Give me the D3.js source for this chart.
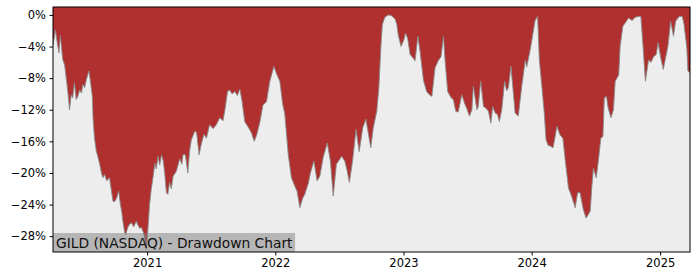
<!DOCTYPE html>
<html>
<head>
<meta charset="utf-8">
<script src="https://cdn.jsdelivr.net/npm/d3@7"></script>
<style>
  html, body { margin: 0; padding: 0; background: #ffffff; }
  svg { display: block; }
  text { font-family: "DejaVu Sans", sans-serif; }
</style>
</head>
<body>
<svg id="chart" width="700" height="280"></svg>
<script>
const titleText = "GILD (NASDAQ) - Drawdown Chart";
const yTicks = [0, -4, -8, -12, -16, -20, -24, -28];
const xTickYears = [2021, 2022, 2023, 2024, 2025];

const dates = [
"2020-04-08","2020-04-13","2020-04-15","2020-04-20","2020-04-25","2020-04-29","2020-05-03","2020-05-06","2020-05-11","2020-05-17",
"2020-05-22","2020-05-25","2020-05-30","2020-06-03","2020-06-08","2020-06-13","2020-06-17","2020-06-23","2020-06-28","2020-07-02",
"2020-07-07","2020-07-12","2020-07-19","2020-07-23","2020-07-29","2020-07-31","2020-08-04","2020-08-09","2020-08-13","2020-08-19",
"2020-08-24","2020-08-28","2020-09-02","2020-09-08","2020-09-16","2020-09-22","2020-09-26","2020-10-01","2020-10-06","2020-10-12",
"2020-10-17","2020-10-21","2020-10-24","2020-10-29","2020-11-01","2020-11-07","2020-11-12","2020-11-17","2020-11-24","2020-12-01",
"2020-12-06","2020-12-11","2020-12-16","2020-12-22","2020-12-30",
"2021-01-05","2021-01-08","2021-01-13","2021-01-18","2021-01-23","2021-01-27","2021-02-01","2021-02-06","2021-02-11","2021-02-16",
"2021-02-20","2021-02-25","2021-03-01","2021-03-06","2021-03-11","2021-03-16","2021-03-25","2021-04-04","2021-04-10","2021-04-13",
"2021-04-20","2021-04-27","2021-05-02","2021-05-07","2021-05-17","2021-05-22","2021-05-29","2021-06-05","2021-06-12","2021-06-19",
"2021-06-28","2021-07-08","2021-07-17","2021-07-27","2021-08-05","2021-08-10","2021-08-18","2021-08-24","2021-08-31","2021-09-08",
"2021-09-15","2021-09-22","2021-09-28","2021-10-06","2021-10-16","2021-10-25","2021-11-02","2021-11-09","2021-11-18","2021-11-27",
"2021-12-07","2021-12-16","2021-12-28",
"2022-01-05","2022-01-14","2022-01-22","2022-01-28","2022-02-07","2022-02-16","2022-02-26","2022-03-04","2022-03-12","2022-03-20",
"2022-03-26","2022-04-05","2022-04-11","2022-04-21","2022-04-30","2022-05-08","2022-05-17","2022-05-29","2022-06-07","2022-06-15",
"2022-06-24","2022-07-09","2022-07-18","2022-07-25","2022-07-31","2022-08-09","2022-08-19","2022-08-28","2022-09-07","2022-09-16",
"2022-09-30","2022-10-07","2022-10-17","2022-10-23","2022-10-29","2022-11-02","2022-11-09","2022-11-19","2022-11-28","2022-12-08",
"2022-12-13","2022-12-17","2022-12-25",
"2023-01-02","2023-01-07","2023-01-13","2023-01-20","2023-01-29","2023-02-03","2023-02-11","2023-02-17","2023-02-27","2023-03-08",
"2023-03-18","2023-03-23","2023-04-01","2023-04-10","2023-04-18","2023-04-25","2023-04-29","2023-05-07","2023-05-17","2023-05-23",
"2023-05-30","2023-06-06","2023-06-16","2023-06-25","2023-06-30","2023-07-08","2023-07-15","2023-07-19","2023-07-29","2023-08-02",
"2023-08-09","2023-08-17","2023-08-24","2023-08-31","2023-09-07","2023-09-12","2023-09-19","2023-09-26","2023-10-01","2023-10-08",
"2023-10-16","2023-10-22","2023-10-27","2023-11-03","2023-11-09","2023-11-15","2023-11-24","2023-12-04","2023-12-14","2023-12-18",
"2023-12-28",
"2024-01-05","2024-01-11","2024-01-18","2024-01-23","2024-01-30","2024-02-06","2024-02-11","2024-02-17","2024-02-23","2024-03-02",
"2024-03-08","2024-03-13","2024-03-22","2024-03-30","2024-04-06","2024-04-15","2024-04-25","2024-05-04","2024-05-11","2024-05-18",
"2024-05-27","2024-06-04","2024-06-10","2024-06-16","2024-06-20","2024-06-25","2024-07-03","2024-07-10","2024-07-16","2024-07-22",
"2024-07-26","2024-08-01","2024-08-06","2024-08-14","2024-08-21","2024-08-26","2024-09-05","2024-09-09","2024-09-17","2024-09-24",
"2024-10-03","2024-10-13","2024-10-22","2024-11-01","2024-11-07","2024-11-13","2024-11-20","2024-11-29","2024-12-06","2024-12-13",
"2024-12-21","2024-12-26",
"2025-01-03","2025-01-10","2025-01-17","2025-01-23","2025-01-31","2025-02-08","2025-02-14","2025-02-24","2025-03-05","2025-03-10",
"2025-03-18","2025-03-21","2025-03-27"
];

const drawdown = [
-3.8,-2.5,-1.9,-3.5,-4.8,-2.6,-4.5,-5.7,-6.3,-8.5,
-10.5,-12.0,-10.1,-10.5,-8.6,-10.7,-10.4,-9.5,-9.9,-8.8,
-9.2,-8.2,-7.1,-8.2,-10.3,-13.0,-15.5,-17.2,-17.8,-18.9,
-20.0,-20.6,-20.2,-21.0,-20.6,-22.5,-23.6,-23.6,-23.2,-22.3,
-24.0,-25.0,-26.1,-27.5,-27.8,-26.9,-26.5,-26.3,-26.8,-26.1,
-26.6,-27.0,-26.9,-27.6,-29.7,
-26.1,-24.0,-22.0,-20.5,-18.8,-19.5,-17.9,-19.0,-17.7,-18.5,
-20.0,-22.5,-22.7,-21.2,-22.0,-20.4,-19.8,-18.2,-18.9,-17.7,
-17.7,-20.0,-17.2,-15.8,-14.7,-14.9,-17.7,-16.2,-15.1,-15.6,
-13.9,-14.4,-13.9,-13.0,-13.4,-12.2,-9.7,-9.5,-10.0,-9.7,
-10.2,-9.4,-10.8,-13.5,-14.2,-14.9,-16.0,-15.2,-13.6,-11.4,
-11.0,-8.5,-6.5,
-7.5,-8.4,-11.3,-12.5,-17.7,-20.6,-21.7,-22.3,-24.4,-23.2,
-22.7,-21.3,-20.0,-18.5,-21.0,-20.4,-18.1,-16.2,-18.5,-22.9,
-18.9,-17.9,-18.5,-19.8,-21.2,-18.5,-14.5,-17.3,-14.3,-13.2,
-16.8,-14.3,-12.2,-9.2,-3.8,-1.2,-0.3,0.0,-0.1,-0.5,
-1.2,-2.5,-4.0,
-3.2,-2.3,-3.0,-5.0,-5.5,-5.8,-2.7,-4.5,-8.3,-9.7,
-10.2,-10.3,-6.7,-5.8,-5.3,-2.7,-5.5,-9.7,-10.5,-10.7,
-12.2,-12.3,-10.1,-11.3,-11.8,-12.8,-12.0,-9.0,-12.0,-11.6,
-8.4,-11.6,-11.8,-12.2,-13.7,-11.6,-12.4,-12.6,-13.5,-12.0,
-8.4,-9.6,-9.2,-6.5,-9.4,-12.4,-12.8,-9.0,-5.7,-6.6,
-4.4,
-2.3,-0.7,-0.2,-5.7,-9.0,-12.4,-15.8,-16.5,-16.6,-16.8,
-15.4,-14.1,-15.2,-15.6,-18.5,-21.9,-23.1,-24.4,-22.5,-22.5,
-24.6,-25.7,-25.3,-24.8,-22.0,-19.4,-20.6,-18.1,-15.6,-15.4,
-10.5,-10.3,-11.8,-13.0,-12.0,-8.4,-7.6,-4.0,-1.4,-1.0,
-0.4,-0.7,-0.3,-0.2,-0.2,-3.8,-8.4,-5.7,-6.0,-5.3,
-5.0,-3.5,
-5.5,-6.9,-5.3,-4.0,-0.8,-2.7,-0.8,-0.2,-0.2,-1.2,
-4.2,-7.1,-7.3
];

const parse = d3.timeParse("%Y-%m-%d");
const data = dates.map((d, i) => ({ date: parse(d), value: drawdown[i] }));

const svg = d3.select("#chart");
const margin = { left: 53, right: 10, top: 7, bottom: 28 };
const W = 700, H = 280;
const x = d3.scaleTime()
  .domain(d3.extent(data, d => d.date))
  .range([margin.left, W - margin.right]);
const y = d3.scaleLinear()
  .domain([-30, 1])
  .range([H - margin.bottom, margin.top]);

// plot background
svg.append("rect")
  .attr("x", margin.left).attr("y", margin.top)
  .attr("width", W - margin.right - margin.left)
  .attr("height", H - margin.bottom - margin.top)
  .attr("fill", "#ededed");

const area = d3.area()
  .x(d => x(d.date))
  .y0(y(1))
  .y1(d => y(d.value));

svg.append("path")
  .datum(data)
  .attr("d", area)
  .attr("fill", "#b03030");

const line = d3.line()
  .x(d => x(d.date))
  .y(d => y(d.value));

svg.append("path")
  .datum(data)
  .attr("d", line)
  .attr("fill", "none")
  .attr("stroke", "#8a8a8a")
  .attr("stroke-width", 0.9);

// label box (semi-transparent, like the reference)
const label = svg.append("g");
const lt = label.append("text")
  .attr("x", margin.left + 3)
  .attr("y", H - margin.bottom - 4)
  .attr("font-size", 13.8)
  .attr("fill", "#111")
  .text(titleText);
const bb = lt.node().getBBox();
label.insert("rect", "text")
  .attr("x", margin.left)
  .attr("y", H - margin.bottom - 19)
  .attr("width", bb.width + 5)
  .attr("height", 19)
  .attr("fill", "#808080")
  .attr("fill-opacity", 0.5);

// axes
const fmt = v => (v < 0 ? "\u2212" + Math.abs(v) : v) + "%";
const yAxis = d3.axisLeft(y).tickValues(yTicks).tickFormat(fmt).tickSize(3.5).tickPadding(3.5);
const xAxis = d3.axisBottom(x)
  .tickValues(xTickYears.map(yr => new Date(yr, 0, 1)))
  .tickFormat(d3.timeFormat("%Y")).tickSize(3.5).tickPadding(3.5);

const gy = svg.append("g").attr("transform", `translate(${margin.left},0)`).call(yAxis);
const gx = svg.append("g").attr("transform", `translate(0,${H - margin.bottom})`).call(xAxis);
[gx, gy].forEach(g => {
  g.select(".domain").remove();
  g.selectAll("text").attr("font-size", 11.5).attr("fill", "#000").attr("font-family", "DejaVu Sans");
  g.selectAll("line").attr("stroke", "#000");
});

// frame
svg.append("rect")
  .attr("x", margin.left).attr("y", margin.top)
  .attr("width", W - margin.right - margin.left)
  .attr("height", H - margin.bottom - margin.top)
  .attr("fill", "none")
  .attr("stroke", "#000")
  .attr("stroke-width", 1);
</script>
</body>
</html>
